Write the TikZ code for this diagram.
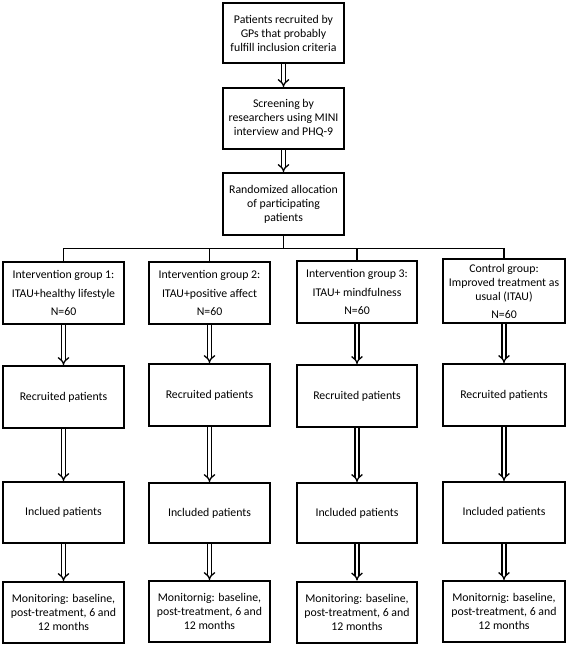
\documentclass[tikz,border=0pt]{standalone}
\usepackage{fontspec}
\setmainfont{Carlito}
\usetikzlibrary{arrows.meta}
\begin{document}
\begin{tikzpicture}[x=1pt,y=-1pt,
  box/.style={draw, line width=2pt, inner sep=0pt, align=center, font=\fontsize{11.8}{14}\selectfont},
  dbl/.style={double, double distance=2.6pt, line width=1.3pt, -{Implies[length=4pt, width=10pt]}},
  conn/.style={line width=1.8pt}]
\useasboundingbox (0,0) rectangle (567,645);
% top column
\node[box, minimum width=121pt, minimum height=60pt] (b1) at (283.5,33) {Patients recruited by\\GPs that probably\\fulfill inclusion criteria};
\node[box, minimum width=121pt, minimum height=61pt] (b2) at (283.5,118.5) {Screening by\\researchers using MINI\\interview and PHQ-9};
\node[box, minimum width=121pt, minimum height=62pt] (b3) at (283.5,204) {Randomized allocation\\of participating\\patients};
\draw[dbl] (b1) -- (b2);
\draw[dbl] (b2) -- (b3);
% groups
\node[box, minimum width=121pt, minimum height=62pt, font=\fontsize{11.8}{18.5}\selectfont] (g1) at (63.5,293) {Intervention group 1:\\ITAU+healthy lifestyle\\N=60};
\node[box, minimum width=121pt, minimum height=62pt, font=\fontsize{11.8}{18.5}\selectfont] (g2) at (209.5,293) {Intervention group 2:\\ITAU+positive affect\\N=60};
\node[box, minimum width=120pt, minimum height=62pt, font=\fontsize{11.8}{18.5}\selectfont] (g3) at (357,292) {Intervention group 3:\\ITAU+ mindfulness\\N=60};
\node[box, minimum width=122pt, minimum height=64pt] (g4) at (504,291) {Control group:\\Improved treatment as\\usual (ITAU)\\[4pt]N=60};
\coordinate (hj) at (283.5,248.5);
\draw[conn] (b3.south) -- (hj);
\draw[conn] (g1.north) |- (hj) -| (g4.north);
\draw[conn] (g2.north) -- (g2.north |- hj);
\draw[conn] (g3.north) -- (g3.north |- hj);
% recruited
\node[box, minimum width=121pt, minimum height=62pt] (r1) at (63.5,397) {Recruited patients};
\node[box, minimum width=121pt, minimum height=62pt] (r2) at (209.5,395) {Recruited patients};
\node[box, minimum width=120pt, minimum height=62pt] (r3) at (357,396) {Recruited patients};
\node[box, minimum width=122pt, minimum height=62pt] (r4) at (504,395) {Recruited patients};
% included
\node[box, minimum width=121pt, minimum height=61pt] (i1) at (63.5,512.5) {Inclued patients};
\node[box, minimum width=121pt, minimum height=60pt] (i2) at (209.5,513) {Included patients};
\node[box, minimum width=120pt, minimum height=60pt] (i3) at (357,513) {Included patients};
\node[box, minimum width=122pt, minimum height=61pt] (i4) at (504,512.5) {Included patients};
% monitoring
\node[box, minimum width=121pt, minimum height=61pt] (m1) at (63.5,612.5) {Monitoring: baseline,\\post-treatment, 6 and\\12 months};
\node[box, minimum width=121pt, minimum height=61pt] (m2) at (209.5,611.5) {Monitornig: baseline,\\post-treatment, 6 and\\12 months};
\node[box, minimum width=120pt, minimum height=61pt] (m3) at (357,612) {Monitoring: baseline,\\post-treatment, 6 and\\12 months};
\node[box, minimum width=122pt, minimum height=61pt] (m4) at (504,611.5) {Monitornig: baseline,\\post-treatment, 6 and\\12 months};
\foreach \c in {1,2,3,4}{
  \draw[dbl] (g\c) -- (r\c);
  \draw[dbl] (r\c) -- (i\c);
  \draw[dbl] (i\c) -- (m\c);
}
\end{tikzpicture}
\end{document}
